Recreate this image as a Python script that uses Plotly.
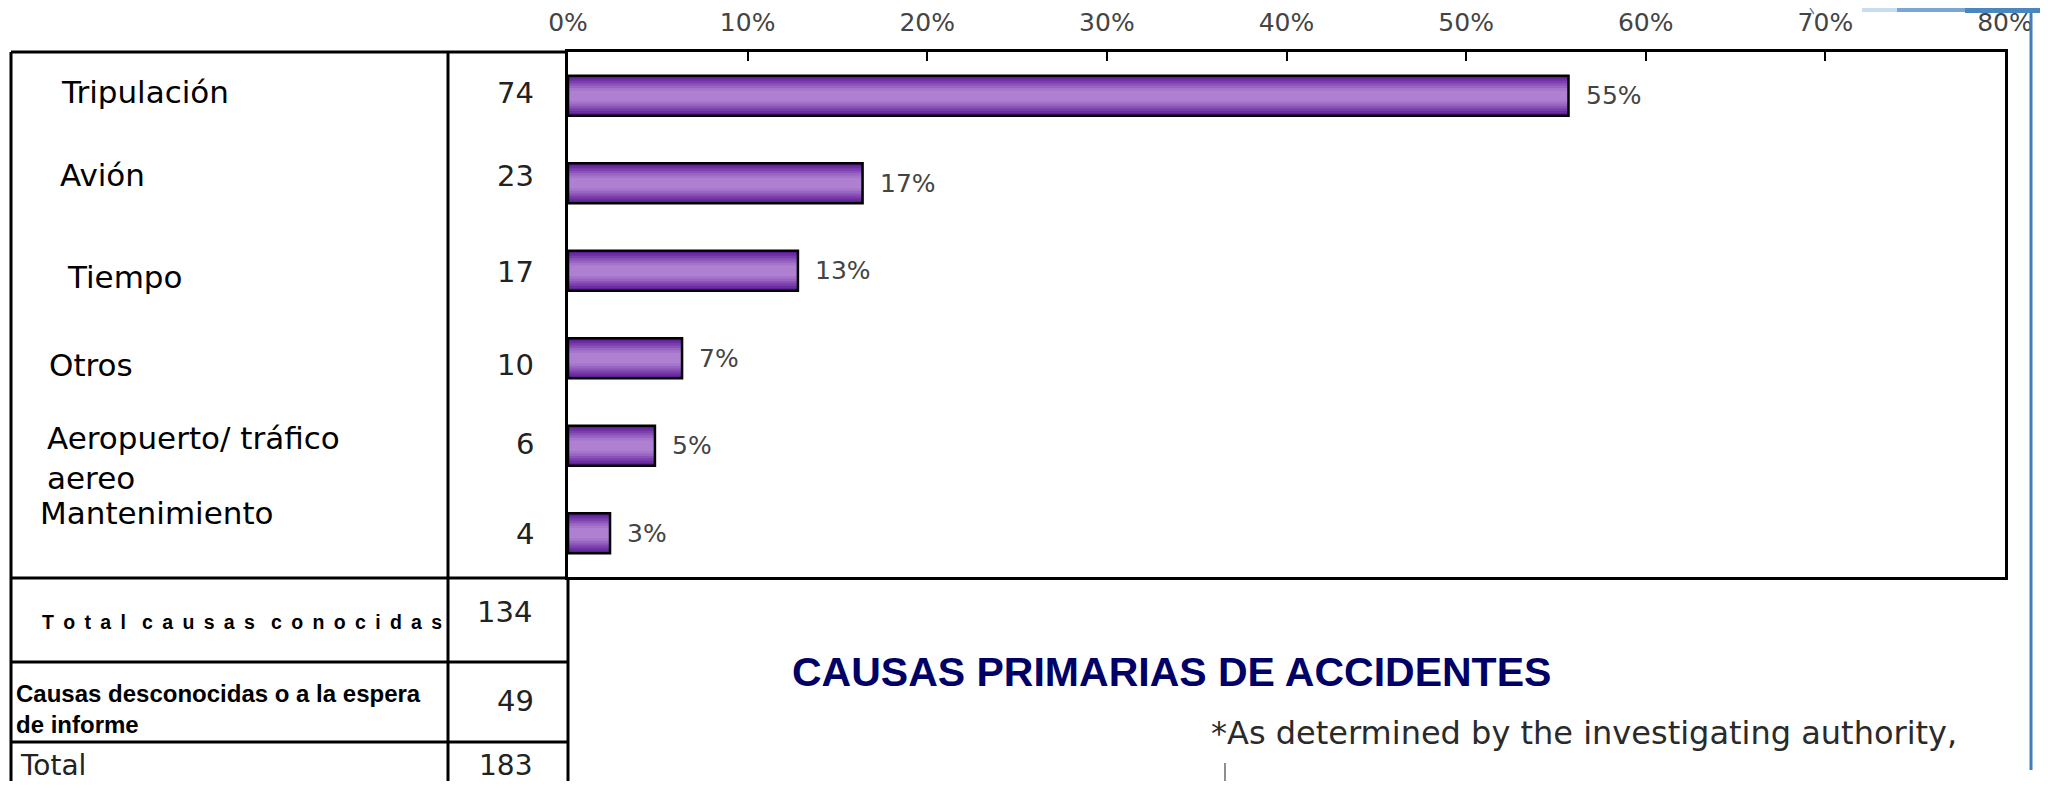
import plotly.graph_objects as go

# ---------------- data ----------------
categories = ["Tripulación", "Avión", "Tiempo", "Otros", "Aeropuerto/ tráfico aereo", "Mantenimiento"]
category_labels = ["Tripulación", "Avión", "Tiempo", "Otros", "Aeropuerto/ tráfico<br>aereo", "Mantenimiento"]
counts = [74, 23, 17, 10, 6, 4]
bar_pct = [55.7, 16.4, 12.8, 6.35, 4.84, 2.34]
pct_labels = ["55%", "17%", "13%", "7%", "5%", "3%"]
tick_vals = [0, 10, 20, 30, 40, 50, 60, 70, 80]
tick_labels = ["0%", "10%", "20%", "30%", "40%", "50%", "60%", "70%", "80%"]
summary_labels = ["Total causas conocidas", "Causas desconocidas o a la espera<br>de informe", "Total"]
summary_counts = [134, 49, 183]
title_text = "CAUSAS PRIMARIAS DE ACCIDENTES"
footnote_text = "*As determined by the investigating authority,"

# ---------------- style ----------------
W, H = 2048, 793                             # screen size
OFF = 8                                      # page body margin offset
FW, FH = W - OFF, H - 2 * OFF - 4            # figure size so the page fits the window
PL, PR, PT, PB = 568, 2005, 52, 577          # plot box in screen pixels
PIX = "DejaVu Sans"
ARIAL = "Liberation Sans"
grad_colors = ["#5e1d96", "#6c2ea2", "#7b40ad", "#8a53b8", "#9865c2", "#a575cb", "#af80d1"]
BAR_W = 0.457
YB = OFF + FH                                # last visible screen row of the figure

def fx(px):
    return (px - OFF) / FW

def fy(py):
    return 1 - (py - OFF) / FH

fig = go.Figure()

fig.add_trace(go.Scatter(x=[OFF + 1], y=[OFF + 1], mode="markers", marker=dict(opacity=0),
                         showlegend=False, hoverinfo="skip", xaxis="x", yaxis="y"))

n = len(grad_colors)
for k, col in enumerate(grad_colors):
    w = BAR_W - k * (BAR_W - 0.12) / (n - 1)
    fig.add_trace(go.Bar(x=bar_pct, y=categories, orientation="h", width=w,
                         marker=dict(color=col, line=dict(width=0)),
                         xaxis="x2", yaxis="y2", showlegend=False, hoverinfo="skip"))
fig.add_trace(go.Bar(x=bar_pct, y=categories, orientation="h", width=BAR_W,
                     marker=dict(color="rgba(0,0,0,0)", line=dict(color="black", width=2.5)),
                     xaxis="x2", yaxis="y2", showlegend=False, hoverinfo="skip"))

annotations = []
for cat, v, lab in zip(categories, bar_pct, pct_labels):
    annotations.append(dict(x=v, y=cat, xref="x2", yref="y2", text=lab, showarrow=False,
                            xanchor="left", yanchor="middle", xshift=15,
                            font=dict(family=PIX, size=25, color="#444444")))

label_x = [59, 58, 65, 47, 45, 38]
label_shift = [4, 8, -6, -7, -12, 20]
for cat, lab, lx, sh in zip(categories, category_labels, label_x, label_shift):
    annotations.append(dict(x=lx, y=cat, xref="x", yref="y2", yshift=sh, text=lab,
                            showarrow=False, xanchor="left", yanchor="middle", align="left",
                            font=dict(family=PIX, size=31, color="black")))
count_shift = [3, 7, -1, -7, 2, -1]
for cat, c, sh in zip(categories, counts, count_shift):
    annotations.append(dict(x=536, y=cat, xref="x", yref="y2", yshift=sh, text=str(c),
                            showarrow=False, xanchor="right", yanchor="middle",
                            font=dict(family=PIX, size=29, color="#222222")))

nb, th = "\u00a0", "\u2009"
spaced = (nb * 3).join((nb + th).join(list(word)) for word in summary_labels[0].split(" "))
annotations.append(dict(x=40, y=622, xref="x", yref="y", text="<b>" + spaced + "</b>",
                        showarrow=False, xanchor="left", yanchor="middle",
                        font=dict(family=ARIAL, size=19.5, color="black")))
annotations.append(dict(x=534, y=612, xref="x", yref="y", text=str(summary_counts[0]),
                        showarrow=False, xanchor="right", yanchor="middle",
                        font=dict(family=PIX, size=29, color="#222222")))
annotations.append(dict(x=14, y=709, xref="x", yref="y", text="<b>" + summary_labels[1] + "</b>",
                        showarrow=False, xanchor="left", yanchor="middle", align="left",
                        font=dict(family=ARIAL, size=24, color="black")))
annotations.append(dict(x=536, y=701, xref="x", yref="y", text=str(summary_counts[1]),
                        showarrow=False, xanchor="right", yanchor="middle",
                        font=dict(family=PIX, size=29, color="#222222")))
annotations.append(dict(x=18, y=765, xref="x", yref="y", text=summary_labels[2],
                        showarrow=False, xanchor="left", yanchor="middle",
                        font=dict(family=PIX, size=28, color="#222222")))
annotations.append(dict(x=534, y=765, xref="x", yref="y", text=str(summary_counts[2]),
                        showarrow=False, xanchor="right", yanchor="middle",
                        font=dict(family=PIX, size=28, color="#222222")))

annotations.append(dict(x=790, y=672, xref="x", yref="y", text="<b>" + title_text + "</b>",
                        showarrow=False, xanchor="left", yanchor="middle",
                        font=dict(family=ARIAL, size=41, color="#000066")))
annotations.append(dict(x=1209, y=733, xref="x", yref="y", text=footnote_text,
                        showarrow=False, xanchor="left", yanchor="middle",
                        font=dict(family=PIX, size=32, color="#2a2a2a")))

def line(x0, y0, x1, y1, w=3, c="black"):
    return dict(type="line", xref="x", yref="y", x0=x0, y0=y0, x1=x1, y1=y1,
                line=dict(color=c, width=w), layer="above")

shapes = [
    line(11, 52, PL, 52),
    line(11, 52, 11, YB + 2),
    line(448, 52, 448, YB + 2),
    line(PL, PB, PL, YB + 2),
    line(11, 578, PL, 578),
    line(11, 662, PL, 662),
    line(11, 742, PL, 742),
    line(1225, 763, 1225, YB, w=1.2, c="#444444"),
    line(2031, OFF, 2031, 770, w=3, c="#3f7fbf"),
    line(1810, OFF, 1814, 14, w=1.5, c="#5a8fc8"),
    dict(type="rect", xref="x", yref="y", x0=1862, y0=OFF - 2, x1=1897, y1=OFF + 4,
         fillcolor="#c8ddf0", line=dict(width=0), layer="above"),
    dict(type="rect", xref="x", yref="y", x0=1897, y0=OFF - 2, x1=1965, y1=OFF + 4,
         fillcolor="#79a6d2", line=dict(width=0), layer="above"),
    dict(type="rect", xref="x", yref="y", x0=1965, y0=OFF - 2, x1=W + 2, y1=OFF + 5,
         fillcolor="#4a86c0", line=dict(width=0), layer="above"),
]

fig.update_layout(
    template="none",
    width=FW, height=FH, autosize=False,
    margin=dict(l=0, r=0, t=0, b=0, pad=0, autoexpand=False),
    paper_bgcolor="white", plot_bgcolor="rgba(0,0,0,0)",
    barmode="overlay",
    showlegend=False,
    xaxis=dict(domain=[0, 1], range=[OFF, W], visible=False, fixedrange=True, automargin=False),
    yaxis=dict(domain=[0, 1], range=[YB, OFF], visible=False, fixedrange=True, automargin=False),
    xaxis2=dict(domain=[fx(PL), fx(PR)], range=[0, 80], anchor="y2", side="top",
                tickvals=tick_vals, ticktext=tick_labels, ticks="inside", ticklen=9,
                tickwidth=2, tickcolor="black", showline=True, mirror=True,
                linecolor="black", linewidth=3, showgrid=False, zeroline=False,
                ticklabelstandoff=8, automargin=False,
                tickfont=dict(family=PIX, size=25, color="#444444"), fixedrange=True),
    yaxis2=dict(domain=[fy(PB), fy(PT)], anchor="x2", type="category",
                categoryorder="array", categoryarray=categories, range=[5.5, -0.5],
                showline=True, mirror=True, linecolor="black", linewidth=3,
                showticklabels=False, ticks="", showgrid=False, zeroline=False,
                automargin=False, fixedrange=True),
    annotations=annotations,
    shapes=shapes,
)

fig.write_html("out.html")
